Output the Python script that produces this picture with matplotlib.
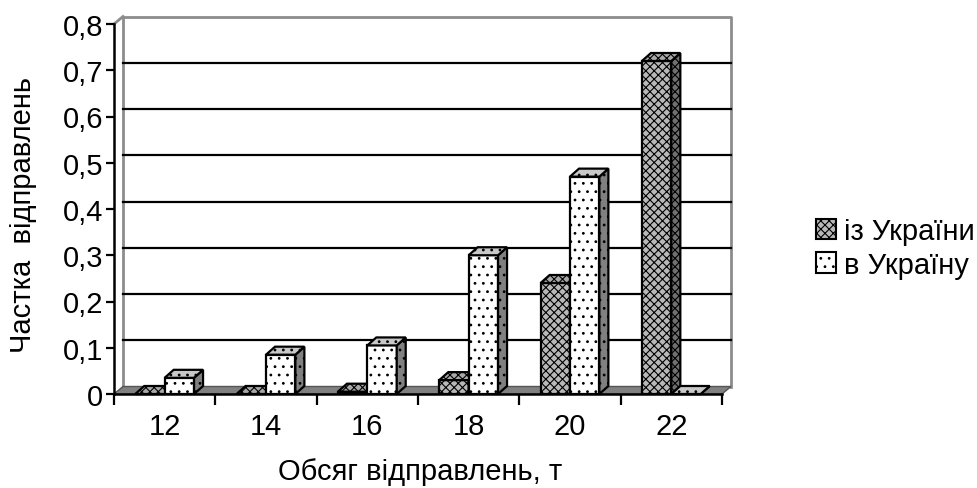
import matplotlib
matplotlib.use("Agg")
import matplotlib.pyplot as plt
from matplotlib.patches import Polygon, Patch
import numpy as np

plt.rcParams['font.family'] = ['Liberation Sans', 'DejaVu Sans']
plt.rcParams['hatch.linewidth'] = 0.8

categories = ["12", "14", "16", "18", "20", "22"]
series_names = ["із України", "в Україну"]
iz_ukrainy = [0.0, 0.0, 0.005, 0.03, 0.24, 0.72]
v_ukrainu = [0.035, 0.085, 0.105, 0.30, 0.47, 0.0]
y_ticks = [0, 0.1, 0.2, 0.3, 0.4, 0.5, 0.6, 0.7, 0.8]

FS = 21
W, H = 978, 489
fig = plt.figure(figsize=(W / 100, H / 100), dpi=100)
L, R, B, T = 114, 722, 395, 25
ax = fig.add_axes([L / W, (H - B) / H, (R - L) / W, (B - T) / H])
ax.set_xlim(-0.5, 5.5)
ax.set_ylim(0, 0.8)

pxx = 6 / (R - L)
pxy = 0.8 / (B - T)
DX, DY = 9 * pxx, 7.5 * pxy

# back wall frame
gray = '#8c8c8c'
ax.plot([-0.5 + DX, -0.5 + DX, 5.5 + DX, 5.5 + DX], [DY, 0.8 + DY, 0.8 + DY, DY],
        color=gray, lw=2, clip_on=False, zorder=1)
ax.plot([-0.5, -0.5 + DX], [0.8, 0.8 + DY], color=gray, lw=2, clip_on=False, zorder=1)
# gridlines on back wall
for v in y_ticks[1:-1]:
    ax.plot([-0.5 + DX, 5.5 + DX], [v + DY, v + DY], color='black', lw=1.6,
            clip_on=False, zorder=1)
# floor
floor = Polygon([(-0.5, 0), (5.5, 0), (5.5 + DX, DY), (-0.5 + DX, DY)], closed=True,
                facecolor='#808080', edgecolor='#555555', lw=1, clip_on=False, zorder=1.5)
ax.add_patch(floor)

x = np.arange(len(categories))
w = 0.29
bdx, bdy = 9 * pxx, 8 * pxy
styles = [
    dict(front='#b8b8b8', top='#a8a8a8', side='#707070', hatch='xxxx'),
    dict(front='white', top='#c8c8c8', side='#808080', hatch='..'),
]
for s, vals in enumerate([iz_ukrainy, v_ukrainu]):
    st = styles[s]
    x0s = x - w + s * w
    ax.bar(x0s, vals, width=w, align='edge', facecolor=st['front'],
           edgecolor='black', hatch=st['hatch'], lw=1.6, zorder=3 + s)
    for x0, v in zip(x0s, vals):
        top = Polygon([(x0, v), (x0 + w, v), (x0 + w + bdx, v + bdy), (x0 + bdx, v + bdy)],
                      closed=True, facecolor=st['top'], edgecolor='black',
                      hatch=st['hatch'], lw=1.6, zorder=3 + s, clip_on=False)
        side = Polygon([(x0 + w, 0), (x0 + w, v), (x0 + w + bdx, v + bdy), (x0 + w + bdx, bdy)],
                       closed=True, facecolor=st['side'], edgecolor='black',
                       hatch=st['hatch'], lw=1.6, zorder=3 + s, clip_on=False)
        ax.add_patch(side)
        ax.add_patch(top)

for sp in ['top', 'right']:
    ax.spines[sp].set_visible(False)
ax.spines['left'].set_linewidth(1.8)
ax.spines['bottom'].set_linewidth(1.8)
ax.spines['left'].set_zorder(6)
ax.spines['bottom'].set_zorder(6)

ax.set_yticks(y_ticks)
ax.set_yticklabels(["0" if t == 0 else f"{t:.1f}".replace('.', ',') for t in y_ticks])
ax.set_xticks(np.arange(-0.5, 6, 1.0))
ax.set_xticklabels([])
ax.set_xticks(x, minor=True)
ax.set_xticklabels(categories, minor=True)
ax.tick_params(axis='y', direction='out', length=6, width=1.6, labelsize=FS, pad=2)
ax.tick_params(axis='x', which='major', direction='out', length=8, width=1.6)
ax.tick_params(axis='x', which='minor', length=0, labelsize=FS, pad=13)

fig.text(420 / W, 1 - 472 / H, "Обсяг відправлень, т", ha='center', va='center', fontsize=FS)
fig.text(23 / W, 1 - 215 / H, "Частка  відправлень", ha='center', va='center',
         rotation=90, fontsize=FS)

handles = [Patch(facecolor=styles[i]['front'], edgecolor='black', hatch=styles[i]['hatch'],
                 lw=1.5, label=series_names[i]) for i in range(2)]
fig.legend(handles=handles, loc='center left', bbox_to_anchor=(816 / W, 1 - 249 / H),
           frameon=False, fontsize=FS, handlelength=0.7, handleheight=0.7,
           handletextpad=0.25, labelspacing=0.2, borderaxespad=0, borderpad=0)

fig.savefig("out.png", dpi=100)
